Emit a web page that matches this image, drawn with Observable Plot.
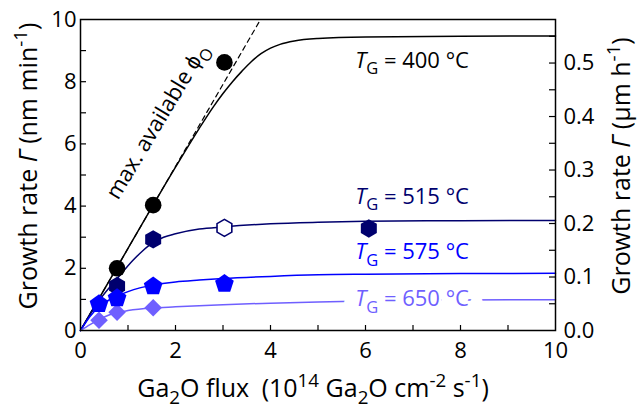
<!DOCTYPE html>
<html><head><meta charset="utf-8">
<script src="https://cdn.jsdelivr.net/npm/d3@7"></script>
<script src="https://cdn.jsdelivr.net/npm/@observablehq/plot@0.6"></script>
<style>
html,body{margin:0;padding:0;background:#fff;}
#chart svg{display:block;}
#chart svg text{font-family:"Open Sans",sans-serif;}
</style></head><body><div id="chart"></div>
<script>
// ---- ticks ----
const xTickLabels = [0, 2, 4, 6, 8, 10];
const xTickMarks = [1, 2, 3, 4, 5, 6, 7, 8, 9];
const yLeftTickLabels = [0, 2, 4, 6, 8, 10];
const yLeftTickMarks = [1, 2, 3, 4, 5, 6, 7, 8, 9];
const yRightTickLabels = [0, 0.1, 0.2, 0.3, 0.4, 0.5];
const yRightTickMarks = [0.05, 0.1, 0.15, 0.2, 0.25, 0.3, 0.35, 0.4, 0.45, 0.5, 0.55];
const rightAxisFactor = 17.2; // nm/min per µm/h as drawn on the right axis

// ---- measured data (Ga2O flux, growth rate nm/min) ----
const flux400 = [0.77, 1.53, 3.03];
const rate400 = [2.0, 4.03, 8.62];
const flux515 = [0.77, 1.53, 6.07];
const rate515 = [1.43, 2.93, 3.28];
const flux515open = [3.03];
const rate515open = [3.30];
const flux575 = [0.39, 0.77, 1.53, 3.03];
const rate575 = [0.88, 1.07, 1.45, 1.53];
const flux650 = [0.39, 0.77, 1.53];
const rate650 = [0.33, 0.59, 0.73];

// ---- fit curves ----
const fit400x = [0, 1, 2, 2.5, 2.8, 3.0, 3.2, 3.4, 3.6, 3.8, 4.0, 4.2, 4.5, 5, 6, 8, 10];
const fit400y = [0, 2.64, 5.25, 6.5, 7.2, 7.62, 8.0, 8.34, 8.65, 8.9, 9.08, 9.2, 9.31, 9.39, 9.44, 9.46, 9.47];
const maxOx = [0, 3.79];
const maxOy = [0, 10];
const fit515x = [0, 0.4, 0.8, 1.1, 1.3, 1.5, 1.75, 2.0, 2.5, 3.0, 4, 5, 6, 8, 10];
const fit515y = [0, 0.98, 1.72, 2.25, 2.55, 2.8, 3.0, 3.11, 3.26, 3.33, 3.43, 3.48, 3.51, 3.53, 3.54];
const fit575x = [0, 0.2, 0.4, 0.6, 0.8, 1.0, 1.25, 1.5, 2.0, 2.5, 3.0, 4, 5, 6, 8, 10];
const fit575y = [0, 0.45, 0.78, 0.98, 1.12, 1.25, 1.37, 1.45, 1.56, 1.62, 1.67, 1.74, 1.79, 1.81, 1.83, 1.84];
const fit650x = [0, 0.2, 0.4, 0.6, 0.8, 1.0, 1.5, 2.0, 3.0, 4, 5, 6, 8, 10];
const fit650y = [0, 0.19, 0.36, 0.5, 0.59, 0.64, 0.72, 0.76, 0.83, 0.88, 0.92, 0.95, 0.98, 0.99];

// ---- annotations ----
const seriesTemps = ["400", "515", "575", "650"];
const labelFlux = [6.98, 6.98, 6.98, 6.98];
const labelRate = [8.68, 4.29, 2.51, 1.0];
const seriesColors = ["#000000", "#00006e", "#0000ff", "#6f5fff"];

const zip = (xs, ys) => xs.map((x, i) => ({x, y: ys[i]}));

const pentagon = {
  draw(context, size) {
    const R = Math.sqrt(size / Math.PI) * 1.2;
    for (let i = 0; i < 5; i++) {
      const a = -Math.PI / 2 + i * 2 * Math.PI / 5;
      const px = R * Math.cos(a), py = R * Math.sin(a) + R * 0.1;
      if (i === 0) context.moveTo(px, py); else context.lineTo(px, py);
    }
    context.closePath();
  }
};

const labels = seriesTemps.map((t, i) => ({x: labelFlux[i], y: labelRate[i], text: `*T*_{G} = ${t} °C`, color: seriesColors[i]}));
const isHalo = d => d.text.includes("650");

const svg = Plot.plot({
  width: 639, height: 409,
  marginLeft: 80, marginRight: 84, marginTop: 19, marginBottom: 79,
  style: {background: "#fff", overflow: "visible"},
  x: {domain: [0, 10]},
  y: {domain: [0, 10]},
  marks: [
    // fit lines
    Plot.line(zip(maxOx, maxOy), {x: "x", y: "y", stroke: "#000", strokeWidth: 1.2, strokeDasharray: "5,4"}),
    Plot.line(zip(fit400x, fit400y), {x: "x", y: "y", stroke: seriesColors[0], strokeWidth: 1.5, curve: "monotone-x"}),
    Plot.line(zip(fit515x, fit515y), {x: "x", y: "y", stroke: seriesColors[1], strokeWidth: 1.5, curve: "monotone-x"}),
    Plot.line(zip(fit575x, fit575y), {x: "x", y: "y", stroke: seriesColors[2], strokeWidth: 1.5, curve: "monotone-x"}),
    Plot.line(zip(fit650x, fit650y), {x: "x", y: "y", stroke: seriesColors[3], strokeWidth: 1.5, curve: "monotone-x"}),
    // markers
    Plot.dot(zip(flux650, rate650), {x: "x", y: "y", symbol: "diamond2", r: 7.9, fill: seriesColors[3], stroke: null}),
    Plot.dot(zip(flux515, rate515), {x: "x", y: "y", symbol: "hexagon", r: 8, fill: seriesColors[1], stroke: null}),
    Plot.dot(zip(flux515open, rate515open), {x: "x", y: "y", symbol: "hexagon", r: 7.4, fill: "#fff", stroke: seriesColors[1], strokeWidth: 1.6}),
    Plot.dot(zip(flux575, rate575), {x: "x", y: "y", symbol: pentagon, r: 8.2, fill: seriesColors[2], stroke: null}),
    Plot.dot(zip(flux400, rate400), {x: "x", y: "y", symbol: "circle", r: 8.3, fill: seriesColors[0], stroke: null}),
    // series labels (white knock-out behind the 650 °C label)
    Plot.text(labels, {x: "x", y: "y", text: "text", fill: "#fff", stroke: "#fff", strokeWidth: 30, strokeLinejoin: "round", fontSize: 22, textAnchor: "middle", filter: isHalo}),
    Plot.text(labels, {x: "x", y: "y", text: "text", fill: "color", fontSize: 22, textAnchor: "middle"}),
    Plot.text(["max. available ϕ_{O}"], {x: 1.62, y: 6.72, rotate: -59, fontSize: 22, textAnchor: "middle", fill: "#000"}),
    // ticks (inward)
    Plot.tickX(xTickMarks, {x: d => d, insetTop: 311 - 5, stroke: "#000", strokeWidth: 1.2}),
    Plot.tickY(yLeftTickMarks, {y: d => d, insetRight: 475 - 6, stroke: "#000", strokeWidth: 1.2}),
    Plot.tickY(yRightTickMarks, {y: d => d * rightAxisFactor, insetLeft: 475 - 6, stroke: "#000", strokeWidth: 1.2}),
    // axes labels
    Plot.axisX(xTickLabels, {tickSize: 0, tickPadding: 12, fontSize: 22, label: null, tickFormat: d => String(d)}),
    Plot.axisY(yLeftTickLabels, {anchor: "left", tickSize: 0, tickPadding: 4, fontSize: 22, label: null, tickFormat: d => String(d)}),
    Plot.axisY(yRightTickLabels.map(v => v * rightAxisFactor), {anchor: "right", tickSize: 0, tickPadding: 8, fontSize: 22, label: null, tickFormat: d => (d / rightAxisFactor).toFixed(1)}),
    // axis titles
    Plot.text(["Ga_{2}O flux\u2002(10^{14} Ga_{2}O cm^{-2} s^{-1})"], {frameAnchor: "bottom", textAnchor: "middle", lineAnchor: "middle", dy: 58, dx: -5, fontSize: 25, fill: "#000"}),
    Plot.text(["Growth rate *Γ* (nm min^{-1})"], {frameAnchor: "left", textAnchor: "middle", lineAnchor: "middle", rotate: -90, dx: -52, dy: -9, fontSize: 25, fill: "#000"}),
    Plot.text(["Growth rate *Γ* (µm h^{-1})"], {frameAnchor: "right", textAnchor: "middle", lineAnchor: "middle", rotate: -90, dx: 66, dy: -9, fontSize: 25, fill: "#000"}),
    Plot.frame({stroke: "#000", strokeWidth: 1.5})
  ]
});
document.getElementById("chart").appendChild(svg);

// rich text: *italic*, _{sub}, ^{sup}
const NS = "http://www.w3.org/2000/svg";
d3.select(svg).selectAll("text").each(function() {
  const el = this;
  const s = el.textContent;
  if (!/(_\{|\^\{|\*)/.test(s)) return;
  const fs = parseFloat(getComputedStyle(el).fontSize) || 16;
  el.textContent = "";
  const parts = s.split(/(_\{[^}]*\}|\^\{[^}]*\}|\*[^*]+\*)/g).filter(p => p);
  let shift = 0;
  for (const p of parts) {
    const t = document.createElementNS(NS, "tspan");
    let target = 0;
    if (p.startsWith("_{")) {
      t.textContent = p.slice(2, -1); target = 0.28 * fs; t.setAttribute("font-size", (0.75 * fs) + "px");
    } else if (p.startsWith("^{")) {
      t.textContent = p.slice(2, -1); target = -0.4 * fs; t.setAttribute("font-size", (0.75 * fs) + "px");
    } else if (p.startsWith("*")) {
      t.textContent = p.slice(1, -1); t.setAttribute("font-style", "italic");
    } else {
      t.textContent = p;
    }
    if (target !== shift) { t.setAttribute("dy", target - shift); shift = target; }
    el.appendChild(t);
  }
});
</script></body></html>
